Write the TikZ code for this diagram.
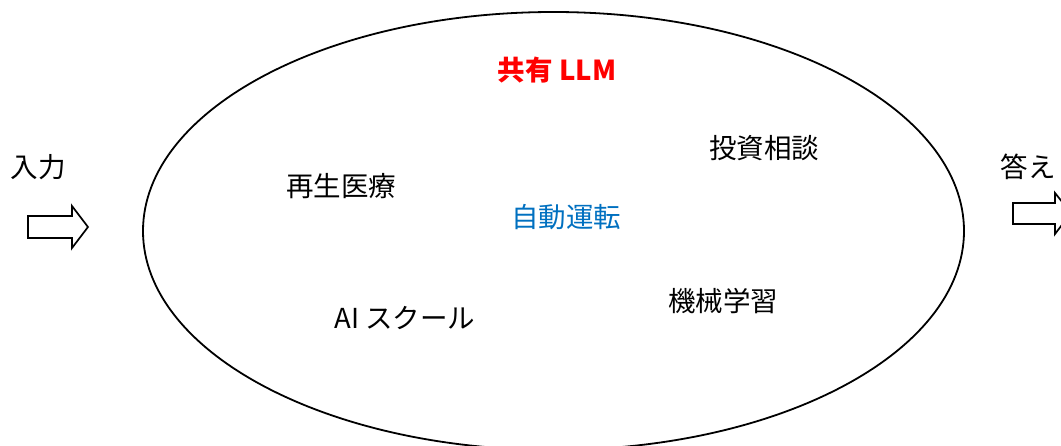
\documentclass[tikz,border=0pt]{standalone}
\usepackage{fontspec}
\setmainfont{Noto Sans CJK JP}
\definecolor{llmred}{RGB}{255,0,0}
\definecolor{autoblue}{RGB}{0,112,192}
\begin{document}
\begin{tikzpicture}[x=1pt,y=-1pt,
  lbl/.style={font=\fontsize{27.5}{32}\selectfont, inner sep=0pt, anchor=center},
  blockarrow/.style={draw=black, line width=1.7pt, fill=white, line join=miter}]
\useasboundingbox (0,0) rectangle (1061,446);
\clip (0,0) rectangle (1061,446);
% ellipse
\draw[line width=1.8pt] (553.5,231) ellipse [x radius=410.5, y radius=219];
% arrows
\draw[blockarrow] (28,216) -- (72,216) -- (72,206) -- (88,227) -- (72,248) -- (72,238) -- (28,238) -- cycle;
\draw[blockarrow] (1013,203) -- (1055,203) -- (1055,193) -- (1071,213) -- (1055,234) -- (1055,224) -- (1013,224) -- cycle;
% labels
\node[lbl] (in) at (38,167) {入力};
\node[lbl] (out) at (1028,167) {答え};
\node[lbl, text=llmred, font=\fontsize{27.5}{32}\selectfont\bfseries] (llm) at (557,70) {共有 LLM};
\node[lbl] (invest) at (764,148) {投資相談};
\node[lbl] (regen) at (341,186) {再生医療};
\node[lbl, text=autoblue] (auto) at (566,217) {自動運転};
\node[lbl] (ai) at (405,318) {AI スクール};
\node[lbl] (ml) at (723,301) {機械学習};
\end{tikzpicture}
\end{document}
